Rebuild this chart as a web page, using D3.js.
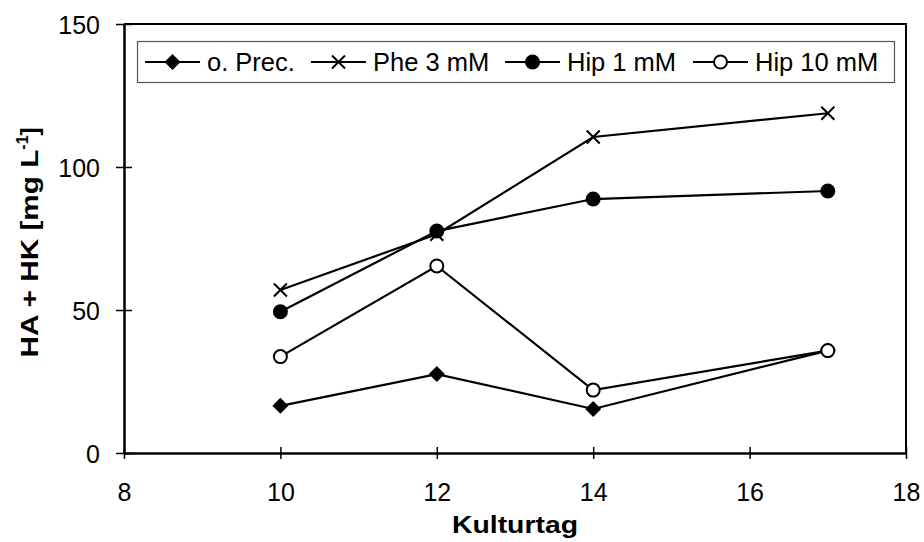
<!DOCTYPE html>
<html>
<head>
<meta charset="utf-8">
<script src="https://cdn.jsdelivr.net/npm/d3@7"></script>
<style>
  body { margin: 0; padding: 0; background: #fff; }
  text { font-family: Arial, "Liberation Sans", sans-serif; fill: #000; }
</style>
</head>
<body>
<div id="main"></div>
<script>
const days = [10, 12, 14, 17];
const oPrec = [16.5, 27.6, 15.4, 35.8];
const phe3 = [57, 76.5, 110.5, 118.8];
const hip1 = [49.4, 77.6, 88.8, 91.6];
const hip10 = [33.7, 65.4, 22, 35.8];
const seriesNames = ['o. Prec.', 'Phe 3 mM', 'Hip 1 mM', 'Hip 10 mM'];
const seriesMarkers = ['diamond', 'cross', 'dot', 'ring'];
const xTicks = [8, 10, 12, 14, 16, 18];
const yTicks = [0, 50, 100, 150];

const WIDTH = 924, HEIGHT = 542;
const LEFT = 124, RIGHT = 906, TOP = 24, BOTTOM = 453;
const FONT = 'Arial, "Liberation Sans", sans-serif';

const svg = d3.select('#main').append('svg').attr('width', WIDTH).attr('height', HEIGHT);

const scaleX = d3.scaleLinear().domain([8, 18]).range([LEFT, RIGHT]);
const scaleY = d3.scaleLinear().domain([0, 150]).range([BOTTOM, TOP]);

// plot frame (top + right)
svg.append('path')
    .attr('d', `M${LEFT},${TOP}H${RIGHT}V${BOTTOM}`)
    .attr('fill', 'none').attr('stroke', '#000').attr('stroke-width', 2);

const axisX = d3.axisBottom(scaleX).tickValues(xTicks).tickSizeInner(6).tickSizeOuter(0).tickPadding(24);
const gx = svg.append('g').attr('transform', `translate(0, ${BOTTOM})`).call(axisX);
gx.select('.domain').attr('stroke-width', 2.5);
gx.selectAll('.tick line').attr('y1', -6).attr('stroke-width', 1.5);
gx.selectAll('.tick text').attr('font-size', 25).attr('font-family', FONT);

const axisY = d3.axisLeft(scaleY).tickValues(yTicks).tickSizeInner(8).tickSizeOuter(0).tickPadding(16);
const gy = svg.append('g').attr('transform', `translate(${LEFT}, 0)`).call(axisY);
gy.select('.domain').attr('stroke-width', 2.5);
gy.selectAll('.tick line').attr('x1', 8).attr('x2', -8).attr('stroke-width', 1.5);
gy.selectAll('.tick text').attr('font-size', 25).attr('font-family', FONT).attr('dy', '0.36em');

// axis titles (slightly stretched like the original)
svg.append('text').attr('x', (LEFT + RIGHT) / 2).attr('y', 533)
    .attr('text-anchor', 'middle').attr('font-size', 24).attr('font-weight', 'bold')
    .attr('textLength', 126).attr('lengthAdjust', 'spacingAndGlyphs')
    .text('Kulturtag');

const yTitle = svg.append('text')
    .attr('transform', `translate(38, ${(TOP + BOTTOM) / 2 + 4}) rotate(-90)`)
    .attr('text-anchor', 'middle').attr('font-size', 24).attr('font-weight', 'bold');
yTitle.append('tspan').attr('textLength', 208).attr('lengthAdjust', 'spacingAndGlyphs').text('HA + HK [mg L');
yTitle.append('tspan').attr('font-size', 16).attr('dy', -10).text('-1');
yTitle.append('tspan').attr('dy', 10).text(']');

const drawMarker = (g, type) => {
    if (type === 'diamond') {
        g.append('path').attr('d', 'M0,-8L8,0L0,8L-8,0Z').attr('fill', '#000');
    } else if (type === 'cross') {
        g.append('path').attr('d', 'M-6.5,-6.5L6.5,6.5M-6.5,6.5L6.5,-6.5').attr('stroke', '#000').attr('stroke-width', 2).attr('fill', 'none');
    } else if (type === 'dot') {
        g.append('circle').attr('r', 7.5).attr('fill', '#000');
    } else {
        g.append('circle').attr('r', 6.5).attr('fill', '#fff').attr('stroke', '#000').attr('stroke-width', 2);
    }
};

const allSeries = [oPrec, phe3, hip1, hip10];
const line = d3.line().x((d, i) => scaleX(days[i])).y((d) => scaleY(d));

allSeries.forEach((values) => {
    svg.append('path').datum(values).attr('d', line)
        .attr('fill', 'none').attr('stroke', '#000').attr('stroke-width', 2.2);
});
allSeries.forEach((values, s) => {
    values.forEach((v, i) => {
        const g = svg.append('g').attr('transform', `translate(${scaleX(days[i])}, ${scaleY(v)})`);
        drawMarker(g, seriesMarkers[s]);
    });
});

// legend
const legend = svg.append('g');
const LEG_X = 137, LEG_Y = 41, LEG_W = 757, LEG_H = 41;
legend.append('rect').attr('x', LEG_X + 0.5).attr('y', LEG_Y + 0.5).attr('width', LEG_W).attr('height', LEG_H)
    .attr('fill', '#fff').attr('stroke', '#555').attr('stroke-width', 1.2);
const itemStarts = [145, 311, 505, 693];
seriesNames.forEach((name, s) => {
    const x0 = itemStarts[s];
    const cy = LEG_Y + LEG_H / 2 + 0.5;
    legend.append('line').attr('x1', x0).attr('x2', x0 + 55).attr('y1', cy).attr('y2', cy)
        .attr('stroke', '#000').attr('stroke-width', 2.2);
    const g = legend.append('g').attr('transform', `translate(${x0 + 27.5}, ${cy})`);
    drawMarker(g, seriesMarkers[s]);
    legend.append('text').attr('x', x0 + 62).attr('y', cy + 9).attr('font-size', 25.5).text(name);
});
</script>
</body>
</html>
